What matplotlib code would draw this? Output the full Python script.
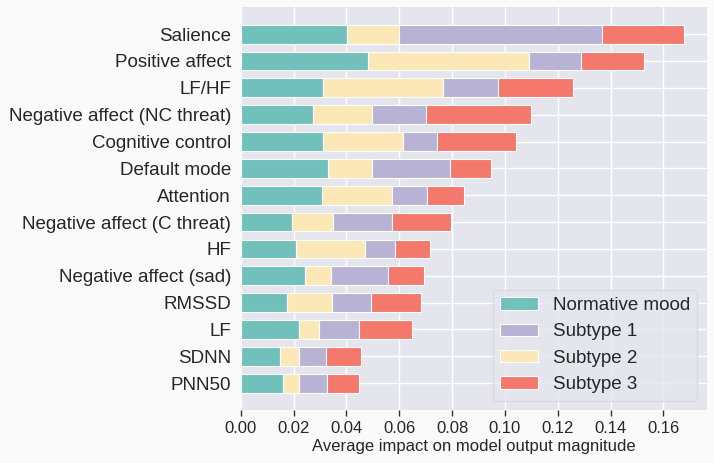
import matplotlib
matplotlib.use("Agg")
import matplotlib.pyplot as plt
import seaborn as sns
import numpy as np

features = ["Salience", "Positive affect", "LF/HF", "Negative affect (NC threat)",
            "Cognitive control", "Default mode", "Attention", "Negative affect (C threat)",
            "HF", "Negative affect (sad)", "RMSSD", "LF", "SDNN", "PNN50"]
normative = [0.0403, 0.0481, 0.0311, 0.0273, 0.0311, 0.0332, 0.0309, 0.0196,
             0.0211, 0.0245, 0.0176, 0.0220, 0.0149, 0.0162]
subtype2 = [0.0197, 0.0610, 0.0453, 0.0223, 0.0303, 0.0165, 0.0265, 0.0152,
            0.0260, 0.0095, 0.0169, 0.0078, 0.0072, 0.0059]
subtype1 = [0.0769, 0.0199, 0.0211, 0.0206, 0.0130, 0.0295, 0.0132, 0.0223,
            0.0114, 0.0216, 0.0147, 0.0148, 0.0101, 0.0105]
subtype3 = [0.0309, 0.0237, 0.0283, 0.0398, 0.0298, 0.0157, 0.0141, 0.0226,
            0.0131, 0.0136, 0.0192, 0.0204, 0.0135, 0.0120]
class_names = ["Normative mood", "Subtype 1", "Subtype 2", "Subtype 3"]

sns.set_theme(style="darkgrid")
plt.rcParams['font.family'] = ['Liberation Sans', 'DejaVu Sans']

colors = {"Normative mood": "#72c0bb", "Subtype 1": "#b8b3d4",
          "Subtype 2": "#fce8b6", "Subtype 3": "#f4796c"}

fig = plt.figure(figsize=(7.14, 4.63), dpi=100)
fig.patch.set_facecolor("#fafafa")
ax = fig.add_axes([240.7/714, 1 - 410/463, (706.7-240.7)/714, (410-7.3)/463])
ax.set_facecolor("#e5e5ee")

n = len(features)
y = np.arange(n)[::-1]
left = np.zeros(n)
handles = {}
for name, vals in [("Normative mood", normative), ("Subtype 2", subtype2),
                   ("Subtype 1", subtype1), ("Subtype 3", subtype3)]:
    vals = np.array(vals)
    h = ax.barh(y, vals, left=left, height=0.7, color=colors[name],
                edgecolor="white", linewidth=0.8, label=name)
    handles[name] = h
    left += vals

ax.set_yticks(y)
ax.set_yticklabels(features, fontsize=13.5, color="#262626")
ax.set_ylim(-1, 14)
ax.set_xlim(0, 0.1764)
ax.set_xticks(np.arange(0, 0.17, 0.02))
ax.set_xticklabels([f"{v:.2f}" for v in np.arange(0, 0.17, 0.02)], fontsize=12, color="#262626")
ax.tick_params(axis="x", bottom=True, length=4, width=1, color="#333333", pad=4)
ax.tick_params(axis="y", left=False, length=0, pad=7)
ax.set_xlabel("Average impact on model output magnitude", fontsize=12, color="#262626", labelpad=2)
for s in ax.spines.values():
    s.set_visible(False)

leg = ax.legend([handles[c] for c in class_names], class_names, loc="lower right",
                fontsize=13.5, frameon=True, facecolor="#e5e5ee", edgecolor="#d8d8e0",
                handlelength=2.0, handleheight=0.65, labelspacing=0.5)
for t in leg.get_texts():
    t.set_color("#262626")

fig.savefig("out.png", dpi=100, facecolor=fig.get_facecolor())
